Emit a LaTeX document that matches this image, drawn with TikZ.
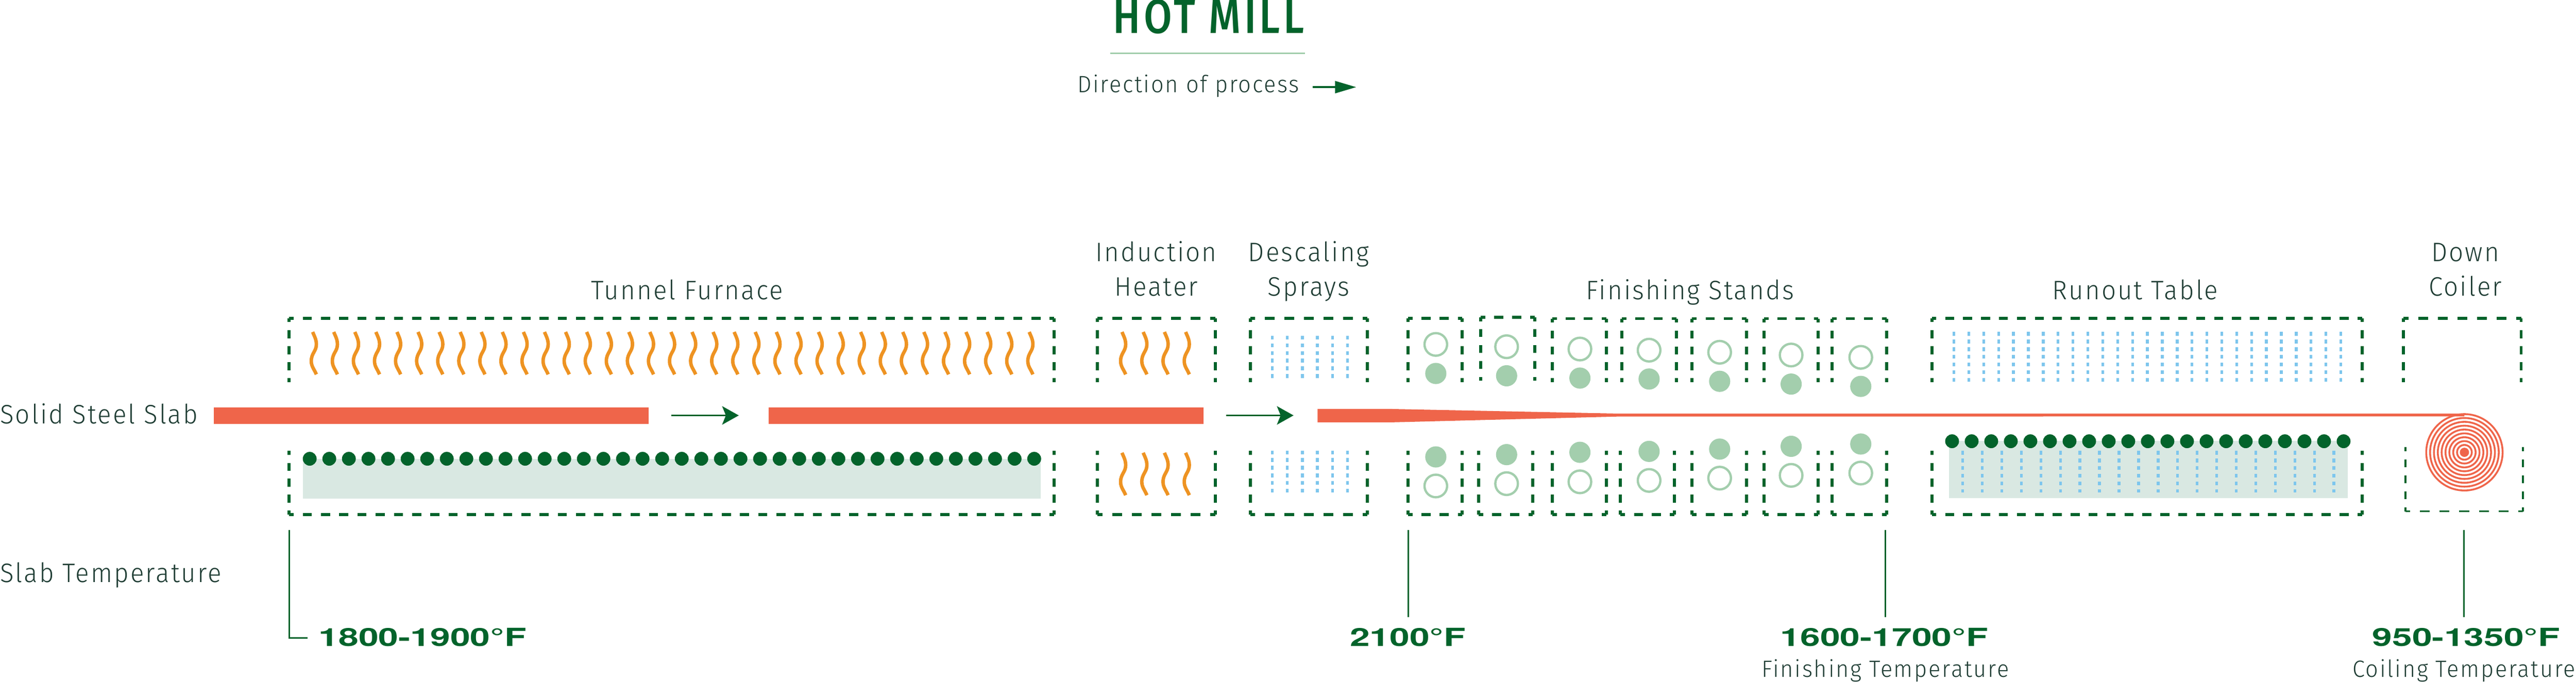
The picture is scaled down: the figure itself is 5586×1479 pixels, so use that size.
\documentclass[tikz,border=0pt]{standalone}
\usepackage{fontspec}
\setmainfont{Fira Sans Light}[FakeStretch=0.95,LetterSpace=6]
\newfontfamily\tempfont{TeX Gyre Heros}[FakeStretch=1.44]
\newfontfamily\titlefont{Fira Sans Medium}[FakeStretch=0.85,LetterSpace=7]
\definecolor{mygreen}{RGB}{3,99,43}
\definecolor{mypale}{RGB}{163,206,173}
\definecolor{myband}{RGB}{217,232,226}
\definecolor{myslab}{RGB}{239,101,74}
\definecolor{myflame}{RGB}{238,147,34}
\definecolor{myspray}{RGB}{126,198,237}
\definecolor{myink}{RGB}{31,61,52}
\usetikzlibrary{arrows.meta,calc,positioning}
% one side of a hood, n dashes with half a dash at each corner
\newcommand{\hoodside}[3]{%
  \path let \p1 = ($#2-#1$), \n1 = {veclen(\x1,\y1)/#3/2} in
    \pgfextra{\xdef\hoodlen{\n1}};
  \draw[hoodline, dash pattern=on \hoodlen off \hoodlen, dash phase=0.5*\hoodlen] #1 -- #2;
}
\newcommand{\hoodup}[4]{% left, top, right, bottom: open below
  \hoodside{(#1,#4)}{(#1,#2)}{4}
  \pgfmathtruncatemacro{\hoodn}{round((#3-#1)/39.5)}
  \hoodside{(#1,#2)}{(#3,#2)}{\hoodn}
  \hoodside{(#3,#2)}{(#3,#4)}{4}
}
\newcommand{\hooddown}[4]{% left, top, right, bottom: open above
  \hoodside{(#1,#2)}{(#1,#4)}{4}
  \pgfmathtruncatemacro{\hoodn}{round((#3-#1)/39.5)}
  \hoodside{(#1,#4)}{(#3,#4)}{\hoodn}
  \hoodside{(#3,#4)}{(#3,#2)}{4}
}
\newcommand{\flame}[2]{%
  \draw[flameline, shift={(#1,#2)}] (0,0) .. controls (4,10) and (8,16) .. (8,27)
    .. controls (8,42) and (-3,46) .. (-3,63)
    .. controls (-3,75) and (3,80) .. (8,92);
}
\begin{document}
\begin{tikzpicture}[x=1pt,y=-1pt,
    hoodline/.style={draw=mygreen, line width=6.5pt},
    flameline/.style={draw=myflame, line width=7.5pt},
    sprayline/.style={draw=myspray, line width=6pt, dash pattern=on 8pt off 8.7pt},
    slab/.style={fill=myslab, draw=none},
    band/.style={fill=myband, draw=none},
    roller/.style={fill=mygreen, draw=none},
    rollon/.style={fill=mypale, draw=none},
    rolloff/.style={draw=mypale, line width=5pt, fill=none},
    leader/.style={draw=mygreen, line width=3pt},
    flow/.style={draw=mygreen, line width=3.5pt, -{Stealth[length=36pt,width=40pt,inset=8pt]}},
    steplabel/.style={text=myink, font=\fontsize{58}{75}\selectfont, inner sep=0pt, anchor=base, align=center},
    sublabel/.style={steplabel, font=\fontsize{51}{60}\selectfont},
    templabel/.style={text=mygreen, font=\fontsize{54}{60}\tempfont\bfseries, inner sep=0pt, anchor=base}
  ]
  \useasboundingbox (0,0) rectangle (5586,1479);

  % title
  \node[inner sep=0pt, anchor=base, text=mygreen, font=\fontsize{104}{104}\titlefont] (title) at (2621,72) {HOT MILL};
  \draw[draw=mypale, line width=3pt] (2408,116) -- (2830,116);
  \node[sublabel, anchor=base west] (direction) at (2336,201) {Direction of process};
  \coordinate (dirstart) at (2847,189);
  \coordinate (dirend) at (2941,189);
  \draw[draw=mygreen, line width=4pt, -{Triangle[length=46pt,width=26pt]}] (dirstart) -- (dirend);

  % labels
  \node[steplabel, anchor=base west] (slablabel) at (0,919) {Solid Steel Slab};
  \node[steplabel, anchor=base west] (templabel) at (0,1263) {Slab Temperature};
  \node[steplabel] (tunnel) at (1490,650) {Tunnel Furnace};
  \node[steplabel] (induction) at (2507,642) {Induction\\Heater};
  \node[steplabel] (descaling) at (2838,642) {Descaling\\Sprays};
  \node[steplabel] (finishing) at (3665,650) {Finishing Stands};
  \node[steplabel] (runout) at (4630,650) {Runout Table};
  \node[steplabel] (coiler) at (5346,642) {Down\\Coiler};

  % bands under the rollers
  \fill[band] (657,995) rectangle (2257,1081);
  \fill[band] (4226,956) rectangle (5091,1080);

  % hoods
  \hoodup{627}{690}{2286}{829}
  \hooddown{627}{978}{2286}{1116}
  \hoodup{2380}{690}{2635}{829}
  \hooddown{2380}{978}{2635}{1116}
  \hoodup{2711}{690}{2965}{829}
  \hooddown{2711}{978}{2965}{1116}
  \hoodup{3053}{690}{3171}{829}
  \hooddown{3053}{978}{3171}{1116}
  \hoodup{3211}{688}{3328}{826}
  \hooddown{3206}{978}{3324}{1116}
  \foreach \l/\r in {3366/3483,3669/3787,3825/3943,3973/4091}{
    \hoodup{\l}{691}{\r}{829}
    \hooddown{\l}{978}{\r}{1116}
  }
  \hoodup{3517}{691}{3635}{829}
  \hooddown{3514}{978}{3631}{1116}
  \hoodup{4189}{690}{5122}{829}
  \hooddown{4189}{978}{5122}{1116}
  \hoodup{5212}{690}{5467}{829}
  \begin{scope}[hoodline/.append style={line width=4pt}]
    \hooddown{5216}{970}{5471}{1109}
  \end{scope}

  % flames
  \foreach \i in {0,...,34}{
    \pgfmathsetmacro{\fx}{678+45.7*\i}
    \flame{\fx}{720}
  }
  \foreach \fx in {2433,2479,2525,2571}{
    \flame{\fx}{720}
    \flame{\fx}{982}
  }

  % sprays
  \foreach \i in {0,...,5}{
    \pgfmathsetmacro{\sx}{2759+32.6*\i}
    \draw[sprayline] (\sx,728) -- (\sx,820);
    \draw[sprayline] (\sx,977) -- (\sx,1069);
  }
  \foreach \i in {0,...,26}{
    \pgfmathsetmacro{\sx}{4237+32.27*\i}
    \draw[sprayline] (\sx,720) -- (\sx,829);
  }
  \foreach \i in {0,...,19}{
    \pgfmathsetmacro{\sx}{4256+42.37*\i}
    \draw[sprayline] (\sx,978) -- (\sx,1068);
  }

  % rollers
  \foreach \i in {0,...,37}{
    \pgfmathsetmacro{\rx}{671.6+42.46*\i}
    \fill[roller] (\rx,995) circle (15);
  }
  \foreach \i in {0,...,20}{
    \pgfmathsetmacro{\rx}{4233+42.45*\i}
    \fill[roller] (\rx,957) circle (15);
  }

  % finishing stands
  \foreach \cx/\a/\b/\c/\d in {3113.5/747/810/991/1054, 3267/752/815/986/1049, 3426/757/820/981/1045,
      3576/759.5/822/979/1042, 3729/764/827/974/1037, 3884/770/833/968/1031, 4035/775/838/963/1026}{
    \draw[rolloff] (\cx,\a) circle (24.5);
    \fill[rollon] (\cx,\b) circle (23);
    \fill[rollon] (\cx,\c) circle (23);
    \draw[rolloff] (\cx,\d) circle (24.5);
  }

  % slab
  \fill[slab] (464,884) rectangle (1406.5,919);
  \fill[slab] (1667,884) rectangle (2610,919);
  \fill[slab] (2857,887) -- (3017,887) -- (3506,897) -- (5344,897) -- (5344,903) -- (3506,903.5) -- (3017,916) -- (2857,916) -- cycle;
  \foreach \rr in {16,24.35,...,83}{
    \draw[draw=myslab, line width=4pt] (5344,981) circle (\rr);
  }
  \fill[slab] (5344,981) circle (10);

  % process arrows
  \coordinate (flowastart) at (1456,901);
  \coordinate (flowaend) at (1602,901);
  \coordinate (flowbstart) at (2659,901);
  \coordinate (flowbend) at (2805,901);
  \draw[flow] (flowastart) -- (flowaend);
  \draw[flow] (flowbstart) -- (flowbend);

  % temperatures
  \node[templabel, anchor=base west] (temp1) at (691,1401) {1800-1900°F};
  \node[templabel] (temp2) at (3053,1401) {2100°F};
  \node[templabel] (temp3) at (4086,1401) {1600-1700°F};
  \node[templabel] (temp4) at (5348,1401) {950-1350°F};
  \node[sublabel] (finishtemp) at (4088,1468) {Finishing Temperature};
  \node[sublabel] (coiltemp) at (5343,1468) {Coiling Temperature};
  \coordinate (leadatop) at (627,1150);
  \coordinate (leadacorner) at (627,1384);
  \coordinate (leadaend) at (667,1384);
  \draw[leader] (leadatop) -- (leadacorner) -- (leadaend);
  \draw[leader] (3054,1150) -- (3054,1338);
  \draw[leader] (4088,1150) -- (4088,1338);
  \draw[leader] (5343,1150) -- (5343,1338);
\end{tikzpicture}
\end{document}
